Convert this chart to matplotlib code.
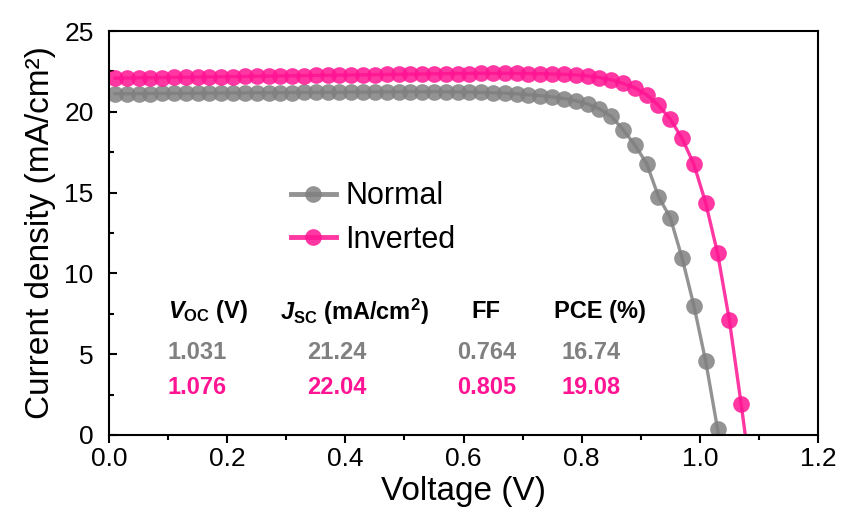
import matplotlib
matplotlib.use("Agg")
import matplotlib.pyplot as plt
from matplotlib.ticker import MultipleLocator

plt.rcParams['font.family'] = ['Liberation Sans', 'DejaVu Sans']
plt.rcParams['mathtext.fontset'] = 'custom'
plt.rcParams['mathtext.rm'] = 'Liberation Sans:bold'
plt.rcParams['mathtext.it'] = 'Liberation Sans:italic:bold'
plt.rcParams['mathtext.bf'] = 'Liberation Sans:bold'

# ---- data ----
v_normal = [0.01, 0.03, 0.05, 0.07, 0.09, 0.11, 0.13, 0.15, 0.17, 0.19,
            0.21, 0.23, 0.25, 0.27, 0.29, 0.31, 0.33, 0.35, 0.37, 0.39,
            0.41, 0.43, 0.45, 0.47, 0.49, 0.51, 0.53, 0.55, 0.57, 0.59,
            0.61, 0.63, 0.65, 0.67, 0.69, 0.71, 0.73, 0.75, 0.77, 0.79,
            0.81, 0.83, 0.85, 0.87, 0.89, 0.91, 0.93, 0.95, 0.97, 0.99,
            1.01, 1.03, 1.05]
j_normal = [21.12, 21.12, 21.13, 21.13, 21.14, 21.14, 21.15, 21.15, 21.16, 21.16,
            21.17, 21.17, 21.18, 21.18, 21.19, 21.19, 21.20, 21.20, 21.21, 21.21,
            21.22, 21.22, 21.23, 21.23, 21.24, 21.24, 21.24, 21.24, 21.24, 21.23,
            21.22, 21.20, 21.18, 21.15, 21.11, 21.06, 21.00, 20.92, 20.82, 20.68,
            20.48, 20.18, 19.72, 18.90, 17.95, 16.80, 14.75, 13.45, 10.95, 8.00,
            4.55, 0.37, -4.00]

v_inverted = [0.01, 0.03, 0.05, 0.07, 0.09, 0.11, 0.13, 0.15, 0.17, 0.19,
              0.21, 0.23, 0.25, 0.27, 0.29, 0.31, 0.33, 0.35, 0.37, 0.39,
              0.41, 0.43, 0.45, 0.47, 0.49, 0.51, 0.53, 0.55, 0.57, 0.59,
              0.61, 0.63, 0.65, 0.67, 0.69, 0.71, 0.73, 0.75, 0.77, 0.79,
              0.81, 0.83, 0.85, 0.87, 0.89, 0.91, 0.93, 0.95, 0.97, 0.99,
              1.01, 1.03, 1.05, 1.07, 1.09]
j_inverted = [22.08, 22.09, 22.10, 22.11, 22.12, 22.13, 22.14, 22.15, 22.16, 22.17,
              22.18, 22.19, 22.20, 22.21, 22.22, 22.23, 22.24, 22.25, 22.26, 22.27,
              22.28, 22.29, 22.30, 22.31, 22.32, 22.33, 22.34, 22.35, 22.36, 22.37,
              22.37, 22.38, 22.38, 22.38, 22.38, 22.37, 22.36, 22.34, 22.32, 22.28,
              22.22, 22.12, 21.98, 21.76, 21.48, 21.05, 20.40, 19.55, 18.35, 16.75,
              14.35, 11.25, 7.10, 1.90, -3.60]

series_names = ["Normal", "Inverted"]
table_headers = [r"$V_{\rm OC}$ (V)", r"$J_{\rm SC}$ (mA/cm$^{2}$)", "FF", "PCE (%)"]
table_normal = ["1.031", "21.24", "0.764", "16.74"]
table_inverted = ["1.076", "22.04", "0.805", "19.08"]

grey = "#808080"
pink = "#FF1493"

fig = plt.figure(figsize=(8.44, 5.22), dpi=100)
ax = fig.add_axes([109/844, 1 - 435/522, (818 - 109)/844, (435 - 31)/522])

ax.plot(v_normal, j_normal, '-o', color=grey, alpha=0.85, lw=2.4, ms=12,
        mew=0, label=series_names[0])
ax.plot(v_inverted, j_inverted, '-o', color=pink, alpha=0.85, lw=2.4, ms=12,
        mew=0, label=series_names[1])

ax.set_xlim(0, 1.2)
ax.set_ylim(0, 25)
ax.xaxis.set_major_locator(MultipleLocator(0.2))
ax.xaxis.set_minor_locator(MultipleLocator(0.1))
ax.yaxis.set_major_locator(MultipleLocator(5))
ax.yaxis.set_minor_locator(MultipleLocator(2.5))
ax.xaxis.set_major_formatter(plt.FormatStrFormatter('%.1f'))

for s in ax.spines.values():
    s.set_linewidth(1.5)

ax.tick_params(axis='x', which='major', direction='out', length=6, width=1.5,
               labelsize=19, pad=3, top=False)
ax.tick_params(axis='x', which='minor', direction='out', length=3.5, width=1.5, top=False)
ax.tick_params(axis='y', which='major', direction='in', length=6, width=1.5,
               labelsize=19, pad=11, right=False)
ax.tick_params(axis='y', which='minor', direction='in', length=3.5, width=1.5, right=False)

ax.set_xlabel("Voltage (V)", fontsize=24, labelpad=3)
ax.set_ylabel("Current density (mA/cm²)", fontsize=24, labelpad=6)

leg = ax.legend(loc='upper left', bbox_to_anchor=(0.256, 0.628), frameon=False,
                fontsize=22, handlelength=1.5, handletextpad=0.3,
                labelspacing=0.45, borderpad=0, borderaxespad=0)
for h in leg.legend_handles:
    h.set_linewidth(3.5)

tfs = 17
ty = [0.3045, 0.2054, 0.1188]
ax.text(0.0832, ty[0], table_headers[0], transform=ax.transAxes, fontsize=tfs,
        fontweight='bold', ha='left', va='center')
ax.text(0.2412, ty[0], table_headers[1], transform=ax.transAxes, fontsize=tfs,
        fontweight='bold', ha='left', va='center')
ax.text(0.5317, ty[0], table_headers[2], transform=ax.transAxes, fontsize=tfs,
        fontweight='bold', ha='center', va='center')
ax.text(0.6925, ty[0], table_headers[3], transform=ax.transAxes, fontsize=tfs,
        fontweight='bold', ha='center', va='center')

val_x = [0.0832, 0.3216, 0.5331, 0.6798]
val_ha = ['left', 'center', 'center', 'center']
for row, col, y in ((table_normal, grey, ty[1]), (table_inverted, pink, ty[2])):
    for x, ha, s in zip(val_x, val_ha, row):
        ax.text(x, y, s, transform=ax.transAxes, fontsize=tfs, fontweight='bold',
                color=col, ha=ha, va='center')

fig.savefig("out.png", dpi=100)
